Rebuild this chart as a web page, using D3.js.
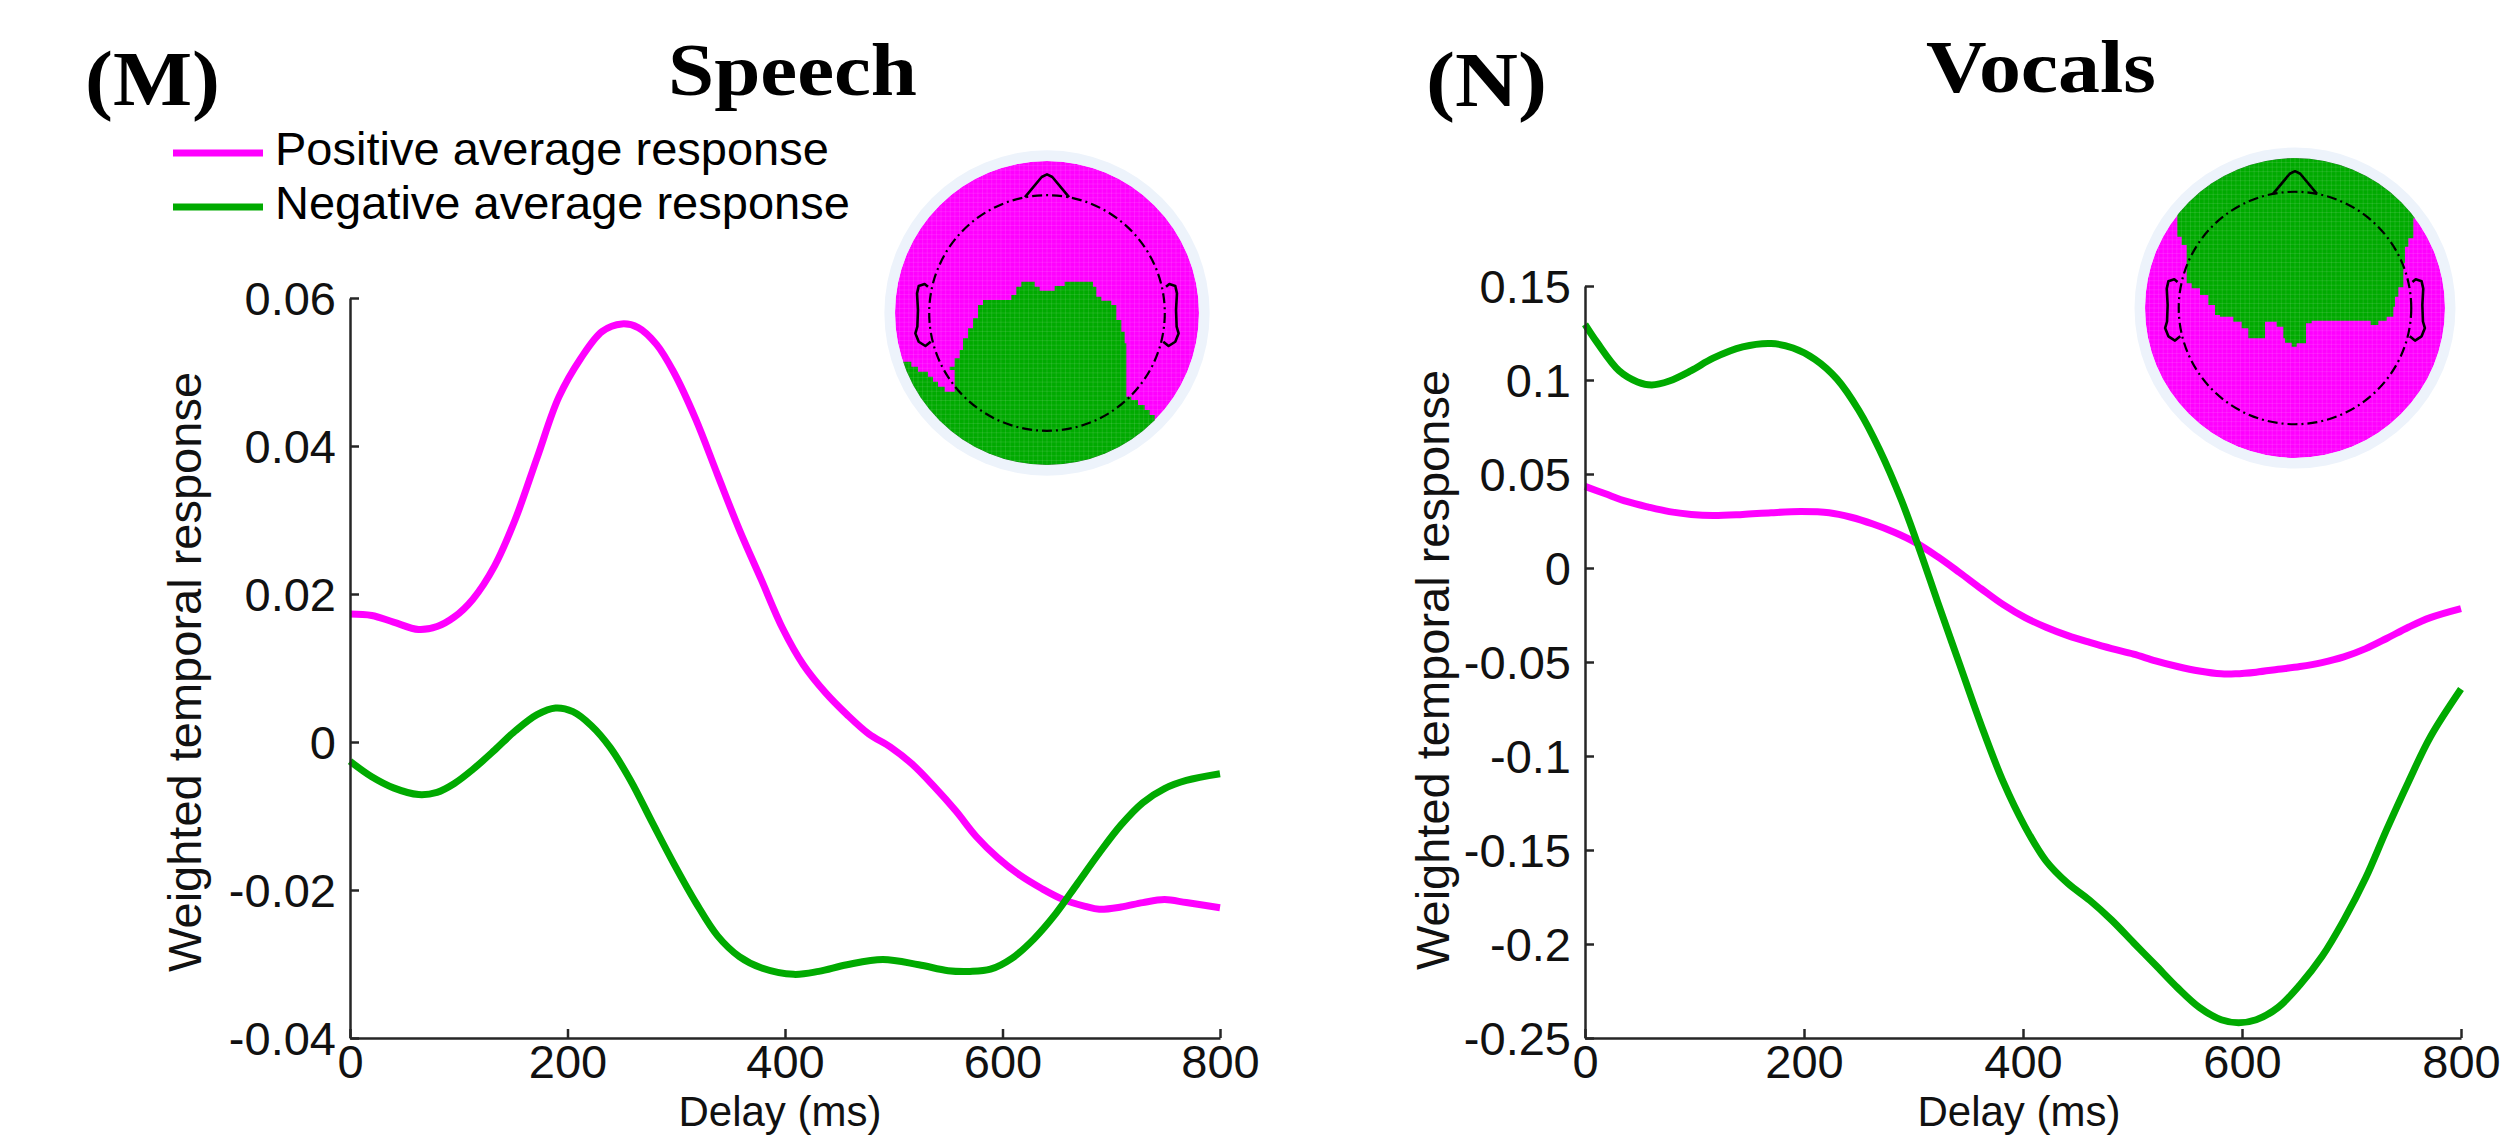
<!DOCTYPE html>
<html><head><meta charset="utf-8">
<script src="https://cdn.jsdelivr.net/npm/d3@7"></script>
<style>body{margin:0;background:#fff} svg{display:block}</style>
</head><body>
<svg id="chart" width="2517" height="1135"></svg>
<script>
// ---------------- DATA ----------------
const xTicks = [0, 200, 400, 600, 800];
const xTickLabels = ["0", "200", "400", "600", "800"];

const speechYTicks = [-0.04, -0.02, 0, 0.02, 0.04, 0.06];
const speechYTickLabels = ["-0.04", "-0.02", "0", "0.02", "0.04", "0.06"];
const vocalsYTicks = [-0.25, -0.2, -0.15, -0.1, -0.05, 0, 0.05, 0.1, 0.15];
const vocalsYTickLabels = ["-0.25", "-0.2", "-0.15", "-0.1", "-0.05", "0", "0.05", "0.1", "0.15"];

const seriesNames = ["Positive average response", "Negative average response"];

const speechPosX = [0,20,40,63,80,96,113,133,152,172,192,212,232,250,265,282,298,318,338,358,378,398,417,437,457,477,497,517,537,557,576,596,616,636,656,676,689,709,729,749,769,800];
const speechPosY = [0.0173,0.0171,0.0162,0.0152,0.0156,0.0169,0.0193,0.0238,0.0301,0.0384,0.0466,0.0518,0.0555,0.0565,0.0560,0.0537,0.0499,0.0436,0.0361,0.0287,0.0220,0.0153,0.0104,0.0067,0.0037,0.0011,-0.0007,-0.0030,-0.0060,-0.0093,-0.0128,-0.0157,-0.0180,-0.0198,-0.0213,-0.0222,-0.0226,-0.0223,-0.0217,-0.0213,-0.0217,-0.0224];

const speechNegX = [0,20,40,63,80,96,113,133,152,172,189,205,222,239,258,278,298,318,338,358,378,408,431,457,490,523,550,570,589,609,629,649,669,689,709,729,749,769,800];
const speechNegY = [-0.0026,-0.0047,-0.0062,-0.0071,-0.0068,-0.0056,-0.0037,-0.0011,0.0015,0.0037,0.0046,0.0041,0.0022,-0.0007,-0.0052,-0.0109,-0.0165,-0.0217,-0.0262,-0.0290,-0.0305,-0.0314,-0.0310,-0.0301,-0.0294,-0.0301,-0.0309,-0.0310,-0.0307,-0.0292,-0.0266,-0.0232,-0.0191,-0.0150,-0.0112,-0.0082,-0.0063,-0.0052,-0.0043];

const vocalsPosX = [0,18,38,58,77,97,117,144,170,197,223,243,263,283,302,322,342,362,382,402,421,441,461,481,501,521,541,561,581,594,613,633,653,673,693,713,732,752,772,800];
const vocalsPosY = [0.0434,0.0396,0.0354,0.0324,0.0300,0.0285,0.0279,0.0285,0.0294,0.0300,0.0294,0.0270,0.0234,0.0189,0.0135,0.0060,-0.0024,-0.0111,-0.0195,-0.0264,-0.0315,-0.0360,-0.0396,-0.0429,-0.0458,-0.0494,-0.0524,-0.0548,-0.0563,-0.0563,-0.0554,-0.0539,-0.0524,-0.0503,-0.0473,-0.0429,-0.0375,-0.0315,-0.0264,-0.0216];

const vocalsNegX = [0,11,31,48,61,77,97,117,144,170,190,210,230,250,269,289,306,322,342,362,382,402,421,441,461,481,501,521,541,561,581,597,613,633,653,673,693,713,732,752,772,800];
const vocalsNegY = [0.1296,0.1200,0.1050,0.0990,0.0974,0.0995,0.1050,0.1116,0.1176,0.1194,0.1170,0.1110,0.1006,0.0839,0.0629,0.0360,0.0090,-0.0180,-0.0510,-0.0839,-0.1138,-0.1378,-0.1558,-0.1678,-0.1768,-0.1873,-0.1993,-0.2112,-0.2232,-0.2337,-0.2403,-0.2419,-0.2403,-0.2337,-0.2217,-0.2067,-0.1873,-0.1648,-0.1393,-0.1138,-0.0899,-0.0644];

// Topographic map regions, traced on a 0..1050 grid of each map (disk centre/radius given in the same grid units)
const speechMapGrid = {cx: 597, cy: 549, r: 456};
const speechMapRegion = [[100,685],[160,685],[160,695],[190,695],[190,710],[210,710],[210,725],[240,725],[240,740],[255,740],[255,755],[270,755],[270,770],[290,770],[290,785],[320,785],[320,720],[305,720],[305,710],[320,710],[320,685],[335,685],[335,660],[345,660],[345,625],[360,625],[360,595],[375,595],[375,565],[390,565],[390,525],[405,525],[405,510],[490,510],[490,495],[505,495],[505,470],[520,470],[520,455],[560,455],[560,470],[575,470],[575,482],[620,482],[620,468],[650,468],[650,455],[735,455],[735,470],[745,470],[745,500],[760,500],[760,512],[790,512],[790,525],[805,525],[805,570],[820,570],[820,605],[830,605],[830,640],[835,640],[835,800],[850,800],[850,810],[870,810],[870,825],[890,825],[890,840],[905,840],[905,855],[920,855],[920,870],[1100,870],[1100,1100],[100,1100]];

const vocalsMapGrid = {cx: 525, cy: 534, r: 450};
const vocalsMapRegion = [[100,255],[172,255],[172,320],[185,320],[185,345],[200,345],[200,460],[215,460],[215,475],[240,475],[240,495],[265,495],[265,525],[285,525],[285,555],[300,555],[300,560],[340,560],[340,575],[365,575],[365,595],[385,595],[385,625],[435,625],[435,575],[470,575],[470,590],[490,590],[490,625],[495,625],[495,638],[515,638],[515,650],[530,650],[530,640],[558,640],[558,580],[575,580],[575,572],[752,572],[752,585],[775,585],[775,572],[800,572],[800,560],[820,560],[820,530],[825,530],[825,500],[835,500],[835,472],[850,472],[850,400],[855,400],[855,350],[865,350],[865,325],[880,325],[880,265],[1000,265],[1000,0],[100,0]];

// head outline shapes, in head units (disk radius = 1)
const headCircleR = 0.775;
const rimR = 1.07;
const noseShape = [[-0.145,-0.762],[-0.035,-0.895],[0,-0.912],[0.035,-0.895],[0.145,-0.762]];
const earShape = [[-0.783,-0.173],[-0.805,-0.191],[-0.844,-0.178],[-0.855,-0.129],[-0.849,-0.020],[-0.853,0.090],[-0.866,0.134],[-0.844,0.189],[-0.800,0.217],[-0.765,0.189]];

// ---------------- DRAWING ----------------
const svg = d3.select('#chart');
svg.append('rect').attr('width', 2517).attr('height', 1135).attr('fill', '#fff');

const SANS = "'Liberation Sans', Arial, Helvetica, sans-serif";
const SERIF = "'Liberation Serif', 'Times New Roman', serif";
const MAG = '#ff00ff', GRN = '#00aa00', AX = '#262626';

function panel(cfg) {
  const x = d3.scaleLinear().domain([0, 800]).range([cfg.x0, cfg.x1]);
  const y = d3.scaleLinear().domain(cfg.yDomain).range([cfg.yBottom, cfg.yTop]);
  const g = svg.append('g');

  const line = d3.line().x(d => x(d[0])).y(d => y(d[1])).curve(d3.curveCatmullRom.alpha(0.5));
  cfg.series.forEach(s => {
    g.append('path').datum(d3.zip(s.x, s.y)).attr('d', line)
      .attr('fill', 'none').attr('stroke', s.color).attr('stroke-width', 7)
      .attr('stroke-linejoin', 'round');
  });

  const yAxis = d3.axisLeft(y).tickValues(cfg.yTicks)
    .tickFormat((d, i) => cfg.yTickLabels[i]).tickSizeInner(-9).tickSizeOuter(0).tickPadding(14);
  const xAxis = d3.axisBottom(x).tickValues(xTicks)
    .tickFormat((d, i) => xTickLabels[i]).tickSizeInner(-9).tickSizeOuter(0).tickPadding(7);

  const ga = g.append('g').attr('transform', `translate(${cfg.x0},0)`).call(yAxis);
  const gb = g.append('g').attr('transform', `translate(0,${cfg.yBottom})`).call(xAxis);
  [ga, gb].forEach(a => {
    a.attr('font-family', SANS).attr('font-size', 47);
    a.select('.domain').attr('stroke', AX).attr('stroke-width', 2.5);
    a.selectAll('.tick line').attr('stroke', AX).attr('stroke-width', 2.5);
    a.selectAll('.tick text').attr('fill', '#111');
  });
  ga.selectAll('.tick text').attr('dy', '0.36em');

  g.append('text').attr('transform', `translate(${cfg.yLabelX},${cfg.yLabelY}) rotate(-90)`)
    .attr('text-anchor', 'middle').attr('font-family', SANS).attr('font-size', 47).attr('fill', '#111')
    .text('Weighted temporal response');
  g.append('text').attr('x', cfg.xLabelX).attr('y', 1126)
    .attr('text-anchor', 'middle').attr('font-family', SANS).attr('font-size', 42).attr('fill', '#111')
    .text('Delay (ms)');

  g.append('text').attr('x', cfg.letterX).attr('y', cfg.letterY).attr('font-family', SERIF)
    .attr('font-weight', 'bold').attr('font-size', 78).attr('textLength', cfg.letterW)
    .attr('lengthAdjust', 'spacingAndGlyphs').text(cfg.letter);
  g.append('text').attr('x', cfg.titleX).attr('y', cfg.titleY).attr('font-family', SERIF)
    .attr('font-weight', 'bold').attr('font-size', 73).attr('textLength', cfg.titleW)
    .attr('lengthAdjust', 'spacingAndGlyphs').text(cfg.title);
}

function topo(cfg, id) {
  const hx = d3.scaleLinear().domain([-1, 1]).range([cfg.cx - cfg.r, cfg.cx + cfg.r]);
  const hy = d3.scaleLinear().domain([-1, 1]).range([cfg.cy - cfg.r, cfg.cy + cfg.r]);
  const gx = d3.scaleLinear().domain([cfg.grid.cx - cfg.grid.r, cfg.grid.cx + cfg.grid.r]).range([-1, 1]);
  const gy = d3.scaleLinear().domain([cfg.grid.cy - cfg.grid.r, cfg.grid.cy + cfg.grid.r]).range([-1, 1]);
  const R = hx(1) - hx(0);
  const g = svg.append('g');

  g.append('circle').attr('cx', hx(0)).attr('cy', hy(0)).attr('r', R * rimR).attr('fill', '#edf3fb');
  const defs = svg.append('defs');
  defs.append('clipPath').attr('id', id).append('circle').attr('cx', hx(0)).attr('cy', hy(0)).attr('r', R);
  const gc = g.append('g').attr('clip-path', `url(#${id})`);
  gc.append('circle').attr('cx', hx(0)).attr('cy', hy(0)).attr('r', R).attr('fill', cfg.base);
  const poly = d3.line().x(d => hx(gx(d[0]))).y(d => hy(gy(d[1])));
  gc.append('path').attr('d', poly(cfg.region) + 'Z').attr('fill', cfg.regionColor);
  // faint interpolation grid
  const n = 66;
  const gridVals = d3.range(n + 1).map(i => -1 + 2 * i / n);
  gc.selectAll('line.v').data(gridVals).join('line')
    .attr('x1', d => hx(d)).attr('x2', d => hx(d)).attr('y1', hy(-1)).attr('y2', hy(1))
    .attr('stroke', '#fff').attr('stroke-opacity', 0.13).attr('stroke-width', 0.8);
  gc.selectAll('line.h').data(gridVals).join('line')
    .attr('y1', d => hy(d)).attr('y2', d => hy(d)).attr('x1', hx(-1)).attr('x2', hx(1))
    .attr('stroke', '#fff').attr('stroke-opacity', 0.13).attr('stroke-width', 0.8);

  g.append('circle').attr('cx', hx(0)).attr('cy', hy(0)).attr('r', R * headCircleR)
    .attr('fill', 'none').attr('stroke', '#000').attr('stroke-width', 2.2)
    .attr('stroke-dasharray', '10,4,2,4');
  const ln = d3.line().x(d => hx(d[0])).y(d => hy(d[1]));
  g.append('path').attr('d', ln(noseShape)).attr('fill', 'none').attr('stroke', '#000')
    .attr('stroke-width', 2.6).attr('stroke-linejoin', 'round');
  g.append('path').attr('d', ln(earShape)).attr('fill', 'none').attr('stroke', '#000')
    .attr('stroke-width', 2.6).attr('stroke-linejoin', 'round');
  g.append('path').attr('d', ln(earShape.map(p => [-p[0], p[1]]))).attr('fill', 'none').attr('stroke', '#000')
    .attr('stroke-width', 2.6).attr('stroke-linejoin', 'round');
}

panel({
  x0: 350, x1: 1220, yTop: 298, yBottom: 1038, yDomain: [-0.04, 0.06],
  yTicks: speechYTicks, yTickLabels: speechYTickLabels,
  series: [{x: speechPosX, y: speechPosY, color: MAG}, {x: speechNegX, y: speechNegY, color: GRN}],
  yLabelX: 201, yLabelY: 672, xLabelX: 780,
  letter: '(M)', letterX: 85, letterY: 105, letterW: 135,
  title: 'Speech', titleX: 668, titleY: 95, titleW: 249
});
panel({
  x0: 1585, x1: 2461, yTop: 286, yBottom: 1038, yDomain: [-0.25, 0.15],
  yTicks: vocalsYTicks, yTickLabels: vocalsYTickLabels,
  series: [{x: vocalsPosX, y: vocalsPosY, color: MAG}, {x: vocalsNegX, y: vocalsNegY, color: GRN}],
  yLabelX: 1449, yLabelY: 670, xLabelX: 2019,
  letter: '(N)', letterX: 1426, letterY: 106, letterW: 121,
  title: 'Vocals', titleX: 1926, titleY: 92, titleW: 230
});

topo({cx: 1047, cy: 313, r: 152, grid: speechMapGrid, region: speechMapRegion, base: MAG, regionColor: GRN}, 'clipM');
topo({cx: 2295, cy: 308, r: 150, grid: vocalsMapGrid, region: vocalsMapRegion, base: MAG, regionColor: GRN}, 'clipN');

// legend
const legendColors = [MAG, GRN];
const leg = svg.append('g');
seriesNames.forEach((name, i) => {
  leg.append('line').attr('x1', 173).attr('x2', 263).attr('y1', 153 + i * 54).attr('y2', 153 + i * 54)
    .attr('stroke', legendColors[i]).attr('stroke-width', 7);
  leg.append('text').attr('x', 275).attr('y', 165 + i * 54).attr('font-family', SANS)
    .attr('font-size', 47).attr('fill', '#000').text(name);
});
</script>
</body></html>
